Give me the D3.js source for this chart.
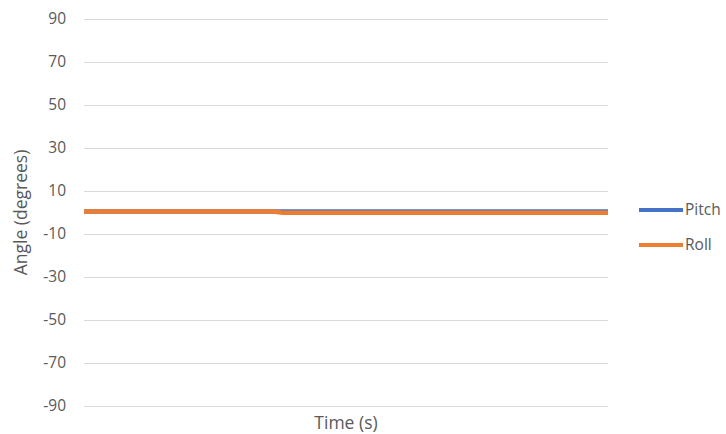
<!DOCTYPE html>
<html>
<head>
<meta charset="utf-8">
<script src="https://cdn.jsdelivr.net/npm/d3@7"></script>
<style>
  html, body { margin: 0; padding: 0; background: #ffffff; }
  svg { display: block; }
  text { font-family: "Open Sans", "Liberation Sans", sans-serif; fill: #595959; }
</style>
</head>
<body>
<svg id="chart" width="726" height="434"></svg>
<script>
// Sample times (category axis, labels not shown)
const times = [
  0, 1, 2, 3, 4, 5, 6, 7, 8, 9,
  10, 11, 12, 13, 14, 15, 16, 17, 18, 19,
  20, 21, 22, 23, 24, 25, 26, 27, 28, 29,
  30, 31, 32, 33, 34, 35, 36, 37, 38, 39,
  40, 41, 42, 43, 44, 45, 46, 47, 48, 49, 50
];

// Angle readings in degrees
const pitch = [
  0.5, 0.5, 0.5, 0.5, 0.5, 0.5, 0.5, 0.5, 0.5, 0.5,
  0.5, 0.5, 0.5, 0.5, 0.5, 0.5, 0.5, 0.5, 0.5, 0.5,
  0.5, 0.5, 0.5, 0.5, 0.5, 0.5, 0.5, 0.5, 0.5, 0.5,
  0.5, 0.5, 0.5, 0.5, 0.5, 0.5, 0.5, 0.5, 0.5, 0.5,
  0.5, 0.5, 0.5, 0.5, 0.5, 0.5, 0.5, 0.5, 0.5, 0.5, 0.5
];
const roll = [
  0.5, 0.5, 0.5, 0.5, 0.5, 0.5, 0.5, 0.5, 0.5, 0.5,
  0.5, 0.5, 0.5, 0.5, 0.5, 0.5, 0.5, 0.5, 0.5, -0.1,
  -0.1, -0.1, -0.1, -0.1, -0.1, -0.1, -0.1, -0.1, -0.1, -0.1,
  -0.1, -0.1, -0.1, -0.1, -0.1, -0.1, -0.1, -0.1, -0.1, -0.1,
  -0.1, -0.1, -0.1, -0.1, -0.1, -0.1, -0.1, -0.1, -0.1, -0.1, -0.1
];

// Y axis tick values
const yTicks = [-90, -70, -50, -30, -10, 10, 30, 50, 70, 90];

const seriesNames = ["Pitch", "Roll"];
const seriesColors = ["#4472C4", "#ED7D31"];

const svg = d3.select("#chart");

const plot = { left: 84, right: 608, top: 19, bottom: 406 };

const x = d3.scalePoint().domain(times).range([plot.left, plot.right]);
const y = d3.scaleLinear().domain([-90, 90]).range([plot.bottom, plot.top]);

// Horizontal gridlines and tick labels (plain hyphen for negatives)
const yAxis = d3.axisLeft(y)
  .tickValues(yTicks)
  .tickSize(-(plot.right - plot.left))
  .tickPadding(18)
  .tickFormat(d => String(d));

const gy = svg.append("g")
  .attr("transform", `translate(${plot.left},0)`)
  .call(yAxis);
gy.select(".domain").remove();
gy.selectAll(".tick line").attr("stroke", "#d9d9d9").attr("stroke-width", 1);
gy.selectAll(".tick text")
  .attr("fill", "#595959")
  .style("font-size", "15.5px")
  .attr("dy", "0.28em");

// Series lines
const series = [
  { name: seriesNames[0], color: seriesColors[0], values: pitch },
  { name: seriesNames[1], color: seriesColors[1], values: roll }
];

const line = d3.line()
  .x((d, i) => x(times[i]))
  .y(d => y(d));

svg.append("g")
  .selectAll("path")
  .data(series)
  .join("path")
  .attr("d", s => line(s.values))
  .attr("fill", "none")
  .attr("stroke", s => s.color)
  .attr("stroke-width", 4.5)
  .attr("stroke-linejoin", "round");

// Axis titles
svg.append("text")
  .attr("x", (plot.left + plot.right) / 2)
  .attr("y", 429)
  .attr("text-anchor", "middle")
  .style("font-size", "17.5px")
  .text("Time (s)");

svg.append("text")
  .attr("transform", `translate(27,${(plot.top + plot.bottom) / 2}) rotate(-90)`)
  .attr("text-anchor", "middle")
  .style("font-size", "17.5px")
  .text("Angle (degrees)");

// Legend
const legend = svg.append("g")
  .selectAll("g")
  .data(series)
  .join("g")
  .attr("transform", (d, i) => `translate(639,${210 + i * 35})`);

legend.append("line")
  .attr("x1", 0).attr("x2", 44)
  .attr("y1", 0).attr("y2", 0)
  .attr("stroke", d => d.color)
  .attr("stroke-width", 4);

legend.append("text")
  .attr("x", 46)
  .attr("y", 0)
  .attr("dy", "0.35em")
  .style("font-size", "15.5px")
  .text(d => d.name);
</script>
</body>
</html>
